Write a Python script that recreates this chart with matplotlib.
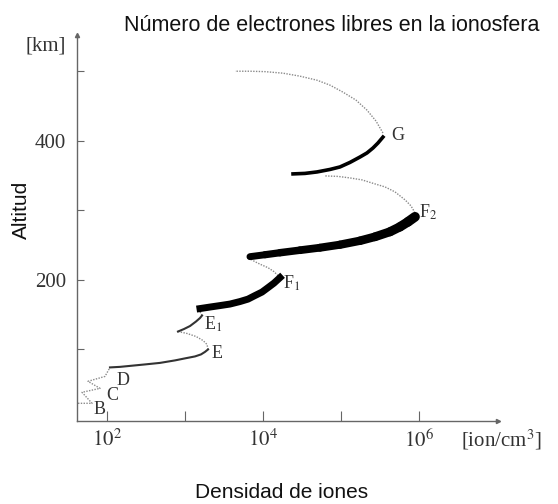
import matplotlib
matplotlib.use("Agg")
import matplotlib.pyplot as plt
from matplotlib.collections import LineCollection
import numpy as np

# ---- data (log10 of ion density, altitude in km) ----
# lower dotted zig-zag through B, C, D
bcd_logn = [1.628, 1.808, 1.679, 1.910, 1.756, 1.974, 2.038]
bcd_km = [22.2, 22.2, 38.0, 43.7, 53.8, 60.9, 73.8]

# E layer (thin solid)
e_logn = [2.038, 2.167, 2.295, 2.487, 2.679, 2.872, 3.0, 3.128, 3.205, 3.256, 3.295]
e_km = [73.8, 74.6, 76.0, 78.1, 80.3, 83.9, 86.8, 89.6, 92.5, 96.1, 99.6]
e_gap_logn = [3.295, 3.282, 3.231, 3.141, 3.026, 2.910]
e_gap_km = [99.6, 106.8, 112.5, 118.3, 122.6, 125.4]

# E1 layer (thin solid)
e1_logn = [2.910, 2.987, 3.064, 3.141, 3.192, 3.218]
e1_km = [125.4, 129.0, 133.3, 139.8, 144.8, 148.4]
e1_gap_logn = [3.218, 3.179]
e1_gap_km = [148.4, 157.0]

# F1 layer (thick)
f1_logn = [3.192, 3.321, 3.449, 3.577, 3.705, 3.808, 3.897, 3.987, 4.064, 4.141, 4.218]
f1_km = [158.4, 160.6, 162.7, 164.9, 168.5, 172.0, 177.1, 182.1, 188.5, 195.0, 202.9]
f1_gap_logn = [4.218, 4.141, 4.064, 3.962, 3.897, 3.833]
f1_gap_km = [202.9, 211.5, 217.2, 222.2, 225.8, 230.1]

# F2 layer (thickest)
f2_logn = [3.833, 4.026, 4.218, 4.474, 4.731, 4.987, 5.244, 5.436, 5.628, 5.756, 5.859, 5.949]
f2_km = [233.0, 235.8, 238.7, 242.3, 245.9, 250.2, 255.9, 261.6, 268.8, 275.9, 283.1, 290.3]
f2_gap_logn = [5.949, 5.897, 5.821, 5.692, 5.564, 5.436, 5.269, 5.115, 4.962, 4.795]
f2_gap_km = [296.1, 306.1, 314.7, 326.2, 333.3, 337.6, 343.4, 346.2, 348.4, 349.1]

# G layer (medium)
g_logn = [4.385, 4.538, 4.692, 4.859, 4.987, 5.115, 5.244, 5.333, 5.410, 5.474, 5.538]
g_km = [352.0, 352.7, 354.8, 358.4, 362.0, 368.5, 376.3, 382.1, 389.2, 396.4, 404.9]
g_top_logn = [5.538, 5.449, 5.333, 5.192, 5.026, 4.859, 4.692, 4.474, 4.256, 4.026, 3.833, 3.641]
g_top_km = [410.8, 428.0, 443.7, 458.1, 469.5, 479.6, 486.7, 492.5, 496.8, 499.0, 499.6, 499.6]

layer_names = ["B", "C", "D", "E", "E$_1$", "F$_1$", "F$_2$", "G"]
name_logn = [1.910, 2.064, 2.205, 3.410, 3.359, 4.372, 6.115, 5.731]
name_km = [13.6, 33.7, 55.2, 93.9, 135.5, 194.3, 296.1, 407.9]

x_ticks = [2, 3, 4, 5, 6]
x_labels = ["$10^{2}$", "", "$10^{4}$", "", "$10^{6}$"]
y_ticks = [100, 200, 300, 400, 500]
y_labels = ["", "200", "", "400", ""]

plt.rcParams['mathtext.fontset'] = 'stix'
serif = 'Liberation Serif'
sans = 'Liberation Sans'
axis_gray = '#666666'
text_gray = '#333333'

fig = plt.figure(figsize=(5.58, 5.04), dpi=100)
ax = fig.add_axes([0.138, 0.165, 0.754, 0.766])
ax.set_xscale('log')
ax.set_xlim(10**1.615, 10**7.01)
ax.set_ylim(-3, 552)

def n(v):
    return 10 ** np.asarray(v)

dot = dict(color='#8a8a8a', lw=1.0, ls=(0, (1, 1)))
ax.plot(n(bcd_logn), bcd_km, **dot)
ax.plot(n(e_gap_logn), e_gap_km, **dot)
ax.plot(n(e1_gap_logn), e1_gap_km, **dot)
ax.plot(n(f1_gap_logn), f1_gap_km, **dot)
ax.plot(n(f2_gap_logn), f2_gap_km, **dot)
ax.plot(n(g_top_logn), g_top_km, **dot)

ax.plot(n(e_logn), e_km, color='#333333', lw=1.5, solid_joinstyle='round')
ax.plot(n(e1_logn), e1_km, color='#333333', lw=1.5, solid_joinstyle='round')
ax.plot(n(f1_logn), f1_km, color='black', lw=5.0, solid_joinstyle='round')
ax.plot(n(g_logn), g_km, color='black', lw=2.6, solid_joinstyle='round')

# F2 gets a little thicker toward its peak
pts = np.column_stack([n(f2_logn), f2_km])
segs = np.stack([pts[:-1], pts[1:]], axis=1)
widths = np.linspace(5.0, 7.0, len(segs))
ax.add_collection(LineCollection(segs, linewidths=widths, colors='black',
                                 capstyle='round', joinstyle='round'))

for name, lx, ly in zip(layer_names, name_logn, name_km):
    ax.text(10 ** lx, ly, name, ha='center', va='center', fontsize=13,
            family=serif, color=text_gray)

# axes look: only left and bottom lines with arrow heads
for s in ['top', 'right']:
    ax.spines[s].set_visible(False)
for s in ['left', 'bottom']:
    ax.spines[s].set_color(axis_gray)
    ax.spines[s].set_linewidth(1.0)
ax.plot(1, 0, '>', color=axis_gray, ms=3, transform=ax.transAxes, clip_on=False)
ax.plot(0, 1, '^', color=axis_gray, ms=3, transform=ax.transAxes, clip_on=False)

ax.set_xticks(n(x_ticks))
ax.set_xticklabels(x_labels)
ax.xaxis.set_minor_locator(matplotlib.ticker.NullLocator())
ax.set_yticks(y_ticks)
ax.set_yticklabels(y_labels)
ax.tick_params(direction='in', color=axis_gray, labelcolor=text_gray, labelsize=15)
ax.tick_params(axis='x', length=7, pad=6)
ax.tick_params(axis='y', length=5, pad=8)
for lab in ax.get_xticklabels() + ax.get_yticklabels():
    lab.set_family(serif)

fig.text(0.595, 0.950, "Número de electrones libres en la ionosfera",
         ha='center', va='center', fontsize=15.5, family=sans, color='#111111')
fig.text(0.081, 0.909, "[km]", ha='center', va='center', fontsize=15,
         family=serif, color=text_gray)
fig.text(0.898, 0.127, "[ion/cm$^{3}$]", ha='center', va='center', fontsize=15,
         family=serif, color=text_gray)
fig.text(0.039, 0.583, "Altitud", ha='center', va='center', rotation=90,
         fontsize=15, family=sans, color='#111111')
fig.text(0.504, 0.022, "Densidad de iones", ha='center', va='center',
         fontsize=15, family=sans, color='#111111')

fig.savefig("out.png", dpi=100)
